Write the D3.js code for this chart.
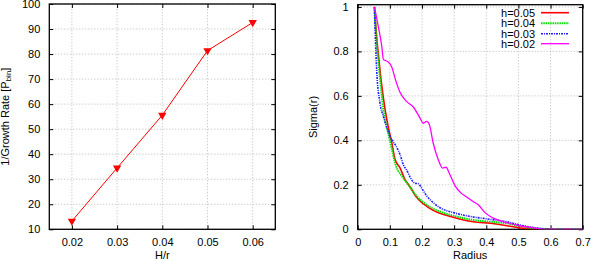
<!DOCTYPE html>
<html><head><meta charset="utf-8">
<script src="https://cdn.jsdelivr.net/npm/d3@7/dist/d3.min.js"></script>
<style>body{margin:0;background:#fff}svg{display:block;font-family:"Liberation Sans",Arial,sans-serif}</style>
</head><body><svg id="c" width="591" height="260"></svg>
<script>
// Left chart data
const hrValues = [0.02, 0.03, 0.04, 0.05, 0.06];
const invGrowth = [13.3, 34.5, 55.6, 81.4, 92.6];
const leftXTicks = [0.02, 0.03, 0.04, 0.05, 0.06];
const leftYTicks = [10, 20, 30, 40, 50, 60, 70, 80, 90, 100];

// Right chart data
const seriesNames = ["h=0.05", "h=0.04", "h=0.03", "h=0.02"];
const r05 = [0.052,0.058,0.064,0.072,0.085,0.095,0.106,0.116,0.132,0.147,0.163,0.18,0.204,0.235,0.256,0.308,0.36,0.412,0.464,0.515,0.56,0.7];
const s05 = [1.0,0.88,0.79,0.68,0.54,0.46,0.39,0.315,0.275,0.225,0.19,0.15,0.115,0.085,0.072,0.05,0.034,0.027,0.016,0.004,0,0];
const r04 = [0.052,0.058,0.067,0.08,0.095,0.105,0.116,0.125,0.132,0.147,0.163,0.18,0.204,0.235,0.256,0.308,0.36,0.412,0.464,0.515,0.557,0.6,0.7];
const s04 = [1.0,0.86,0.717,0.537,0.432,0.37,0.30,0.265,0.25,0.22,0.19,0.155,0.122,0.092,0.08,0.057,0.042,0.034,0.027,0.012,0.004,0,0];
const r03 = [0.052,0.055,0.059,0.069,0.08,0.09,0.1,0.11,0.121,0.132,0.142,0.152,0.163,0.178,0.189,0.199,0.215,0.235,0.256,0.298,0.349,0.412,0.464,0.505,0.567,0.62,0.7];
const s03 = [1.0,0.86,0.717,0.57,0.507,0.46,0.42,0.395,0.37,0.335,0.29,0.267,0.235,0.207,0.205,0.185,0.15,0.12,0.097,0.075,0.058,0.045,0.034,0.019,0.004,0,0];
const r02 = [0.052,0.064,0.075,0.08,0.088,0.095,0.106,0.116,0.132,0.152,0.173,0.194,0.204,0.215,0.223,0.235,0.251,0.264,0.275,0.285,0.303,0.32,0.339,0.36,0.375,0.396,0.422,0.464,0.505,0.546,0.588,0.7];
const s02 = [1.0,0.913,0.822,0.763,0.758,0.752,0.73,0.68,0.615,0.575,0.55,0.5,0.477,0.485,0.47,0.387,0.312,0.275,0.279,0.252,0.195,0.165,0.145,0.124,0.11,0.075,0.05,0.03,0.016,0.007,0,0];
const rightXTicks = [0, 0.1, 0.2, 0.3, 0.4, 0.5, 0.6, 0.7];
const rightYTicks = [0, 0.2, 0.4, 0.6, 0.8, 1];

const svg = d3.select("#c");
const FS = 11;

function frame(g, x, y, xt, yt, xfmt, yfmt) {
  const [x0, x1] = x.range(), [y0, y1] = y.range();
  // grid
  g.selectAll(".gx").data(xt).join("line")
    .attr("x1", d => x(d)).attr("x2", d => x(d)).attr("y1", y0).attr("y2", y1)
    .attr("stroke", "#aaa").attr("stroke-width", 0.8).attr("stroke-dasharray", "1,2");
  g.selectAll(".gy").data(yt).join("line")
    .attr("y1", d => y(d)).attr("y2", d => y(d)).attr("x1", x0).attr("x2", x1)
    .attr("stroke", "#aaa").attr("stroke-width", 0.8).attr("stroke-dasharray", "1,2");
  // axes with inward ticks
  const ax = g.append("g");
  ax.append("g").attr("transform", `translate(0,${y0})`)
    .call(d3.axisBottom(x).tickValues(xt).tickSize(-4).tickPadding(9).tickFormat(xfmt));
  ax.append("g").attr("transform", `translate(0,${y1})`)
    .call(d3.axisTop(x).tickValues(xt).tickSize(-4).tickFormat(""));
  ax.append("g").attr("transform", `translate(${x0},0)`)
    .call(d3.axisLeft(y).tickValues(yt).tickSize(-4).tickPadding(9).tickFormat(yfmt));
  ax.append("g").attr("transform", `translate(${x1},0)`)
    .call(d3.axisRight(y).tickValues(yt).tickSize(-4).tickFormat(""));
  ax.selectAll(".domain").remove();
  ax.selectAll("line").attr("stroke", "#000");
  ax.selectAll("text").attr("font-size", FS).attr("font-family", "Liberation Sans, Arial, sans-serif").attr("fill", "#000");
  g.append("rect").attr("x", x0).attr("y", y1).attr("width", x1 - x0).attr("height", y0 - y1)
    .attr("fill", "none").attr("stroke", "#000").attr("stroke-width", 1.3);
}

// ---- Left chart
const xL = d3.scaleLinear().domain([0.015, 0.065]).range([49.3, 275.3]);
const yL = d3.scaleLinear().domain([10, 100]).range([229.3, 4]);
const gL = svg.append("g");
frame(gL, xL, yL, leftXTicks, leftYTicks, d3.format(".2f"), d3.format("d"));
const ptsL = hrValues.map((v, i) => [v, invGrowth[i]]);
gL.append("path").datum(ptsL)
  .attr("d", d3.line().x(d => xL(d[0])).y(d => yL(d[1])))
  .attr("fill", "none").attr("stroke", "#ff0000").attr("stroke-width", 1);
gL.selectAll(".m").data(ptsL).join("path")
  .attr("transform", d => `translate(${xL(d[0])},${yL(d[1])}) rotate(180)`)
  .attr("d", d3.symbol(d3.symbolTriangle, 30)())
  .attr("fill", "#ff0000");
gL.append("text").attr("x", xL(0.04)).attr("y", 259).attr("text-anchor", "middle")
  .attr("font-size", FS).text("H/r");
const yl = gL.append("text").attr("transform", `translate(9,${(4 + 229.3) / 2}) rotate(-90)`)
  .attr("text-anchor", "middle").attr("font-size", FS);
yl.append("tspan").text("1/Growth Rate [P");
yl.append("tspan").attr("font-size", 8).attr("dy", 2).text("bin");
yl.append("tspan").attr("dy", -2).text("]");

// ---- Right chart
const xR = d3.scaleLinear().domain([0, 0.7]).range([357.7, 582.7]);
const yR = d3.scaleLinear().domain([0, 1.01]).range([229.3, 4.7]);
const gR = svg.append("g");
frame(gR, xR, yR, rightXTicks, rightYTicks, d => String(+d.toFixed(1)), d => String(+d.toFixed(1)));

const series = [
  {name: seriesNames[0], r: r05, s: s05, color: "#ff0000", dash: null, w: 1.6},
  {name: seriesNames[1], r: r04, s: s04, color: "#00e000", dash: "1.5,0.8", w: 2},
  {name: seriesNames[2], r: r03, s: s03, color: "#2020ff", dash: "2,1,1,1", w: 1.6},
  {name: seriesNames[3], r: r02, s: s02, color: "#ff00ff", dash: null, w: 1.3}
];
const clip = gR.append("clipPath").attr("id", "cr").append("rect")
  .attr("x", 357.7).attr("y", 4.7).attr("width", 225).attr("height", 224.6);
const line = d3.line().x(d => xR(d[0])).y(d => yR(d[1])).curve(d3.curveMonotoneX);
series.forEach(se => {
  const pts = se.r.map((v, i) => [v, se.s[i]]);
  gR.append("path").datum(pts).attr("d", line).attr("clip-path", "url(#cr)")
    .attr("fill", "none").attr("stroke", se.color).attr("stroke-width", se.w)
    .attr("stroke-dasharray", se.dash);
});
// legend
const legY = [12.7, 23.3, 33.7, 43.7];
series.forEach((se, i) => {
  gR.append("text").attr("x", 535).attr("y", legY[i]).attr("dy", "0.36em")
    .attr("text-anchor", "end").attr("font-size", FS).text(se.name);
  gR.append("line").attr("x1", 541).attr("x2", 569).attr("y1", legY[i]).attr("y2", legY[i])
    .attr("stroke", se.color).attr("stroke-width", se.w).attr("stroke-dasharray", se.dash);
});
gR.append("text").attr("x", (357.7 + 582.7) / 2).attr("y", 259).attr("text-anchor", "middle")
  .attr("font-size", FS).text("Radius");
gR.append("text").attr("transform", `translate(317,${(4.7 + 229.3) / 2}) rotate(-90)`)
  .attr("text-anchor", "middle").attr("font-size", FS).text("Sigma(r)");
</script></body></html>
